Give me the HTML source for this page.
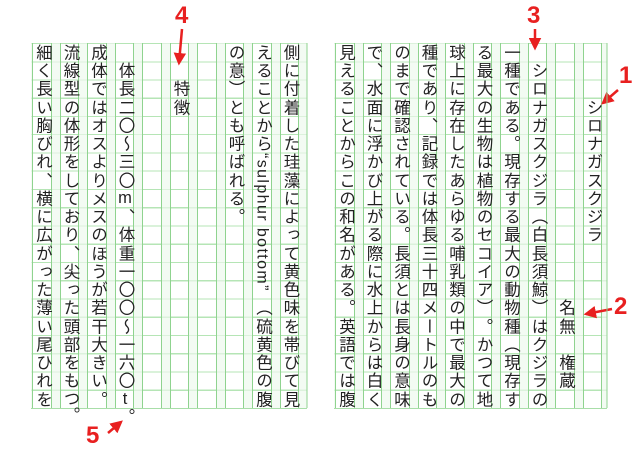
<!DOCTYPE html>
<html><head><meta charset="utf-8">
<style>
html,body{margin:0;padding:0;background:#fff;}
body{width:640px;height:453px;position:relative;overflow:hidden;font-family:"Liberation Sans","Noto Sans CJK JP",sans-serif;}
.page{position:absolute;top:43px;height:365px;background:#f3fbf3;
 background-image:repeating-linear-gradient(to bottom,#dcf2dc 0,#dcf2dc 1px,transparent 1px,transparent 18.25px);
 border-bottom:1px solid #a8dea8;}
.col{position:absolute;top:43px;width:17.5px;height:365px;background:#fff;
 border-left:1px solid #8fd38f;border-right:1px solid #8fd38f;
 background-image:repeating-linear-gradient(to bottom,#b5e5b5 0,#b5e5b5 1px,transparent 1px,transparent 18.25px);
 font-size:16.5px;color:#222;
 font-family:"Liberation Sans","Noto Sans CJK JP",sans-serif;white-space:nowrap;}
.col span{position:absolute;left:0;height:18.25px;width:17.5px;writing-mode:vertical-rl;line-height:17.5px;text-align:center;overflow:visible;}
.col span.u{text-orientation:upright;}
.col span.lat{height:146px;text-align:start;font-size:16px;letter-spacing:1.4px;}
.lbl{position:absolute;color:#e82020;font:bold 24px "Liberation Sans",sans-serif;}
svg{position:absolute;left:0;top:0;}
</style></head><body>
<div class="page" style="left:31px;width:276px;"></div>
<div class="page" style="left:334px;width:273px;"></div>
<div id="cols"></div>
<svg width="640" height="453">
<defs><marker id="a" markerWidth="5" markerHeight="5" refX="4" refY="2.5" orient="auto" markerUnits="strokeWidth"><path d="M0,0 L5,2.5 L0,5 z" fill="#e82020"/></marker></defs>
<g stroke="#e82020" stroke-width="2.5" marker-end="url(#a)">
<line x1="618" y1="90" x2="603" y2="103"/>
<line x1="612" y1="309" x2="586" y2="314"/>
<line x1="535" y1="29" x2="535" y2="48"/>
<line x1="182" y1="29" x2="179" y2="63"/>
<line x1="108" y1="433" x2="121" y2="422"/>
</g>
<line x1="307" y1="43" x2="307" y2="408" stroke="#8fd38f"/>
<line x1="607" y1="43" x2="607" y2="408" stroke="#8fd38f"/>
</svg>
<div class="lbl" style="left:619px;top:62px;">1</div>
<div class="lbl" style="left:614px;top:293px;">2</div>
<div class="lbl" style="left:527px;top:2px;">3</div>
<div class="lbl" style="left:175px;top:2px;">4</div>
<div class="lbl" style="left:86px;top:422px;">5</div>
<script>
var cols=[
[582.5,"   シロナガスクジラ"],
[555,"              名無 権蔵"],
[527.5," シロナガスクジラ（白長須鯨）はクジラの"],
[500,"一種である。現存する最大の動物種（現存す"],
[472.5,"る最大の生物は植物のセコイア）。かつて地"],
[445,"球上に存在したあらゆる哺乳類の中で最大の"],
[417.5,"種であり、記録では体長三十四メートルのも"],
[390,"のまで確認されている。長須とは長身の意味"],
[362.5,"で、水面に浮かび上がる際に水上からは白く"],
[335,"見えることからこの和名がある。英語では腹"],
[279.5,"側に付着した珪藻によって黄色味を帯びて見"],
[252,"えることから#（硫黄色の腹"],
[224.5,"の意）とも呼ばれる。"],
[197,""],
[169.5,"  特徴"],
[142,""],
[114.5," 体長二〇～三〇m、体重一〇〇～一六〇t。"],
[87,"成体ではオスよりメスのほうが若干大きい。"],
[59.5,"流線型の体形をしており、尖った頭部をもつ。"],
[32,"細く長い胸びれ、横に広がった薄い尾ひれを"]
];
var h="";
cols.forEach(function(c){
 var s="",arr=Array.from(c[1]),r=0;
 function put(cls,txt,n){s+='<span class="'+cls+'" style="top:'+(r*18.25)+'px">'+txt+'</span>';r+=n;}
 for(var i=0;i<arr.length;i++){
  var ch=arr[i];
  if(ch=="#"){put("lat","“sulphur bottom”",8);continue;}
  if(ch==" "){r++;continue;}
  if(ch=="つ"&&arr[i+1]=="。"){put("","つ。",1);i++;continue;}
  if(ch=="t"&&arr[i+1]=="。"){put("u","t。",1);i++;continue;}
  if(ch=="m"){put("u","m",1);continue;}
  put("",ch,1);
 }
 h+='<div class="col" style="left:'+c[0]+'px">'+s+'</div>';
});
document.getElementById("cols").innerHTML=h;
</script>
</body></html>
